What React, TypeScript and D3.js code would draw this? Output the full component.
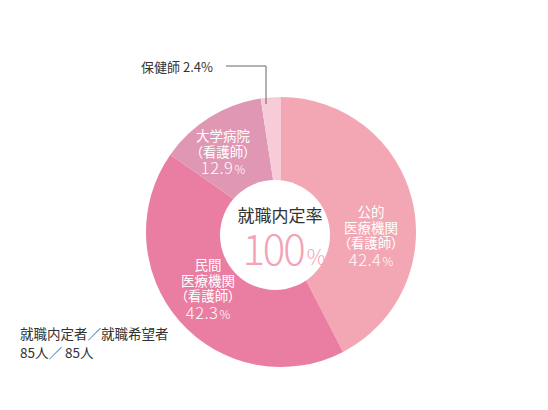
import React, { useRef, useEffect } from 'react';
import * as d3 from 'd3';

// data
const categories = ['公的医療機関（看護師）', '民間医療機関（看護師）', '大学病院（看護師）', '保健師'];
const values = [42.4, 42.3, 12.9, 2.4];
const labelLines = [
  ['公的', '医療機関', '（看護師）'],
  ['民間', '医療機関', '（看護師）'],
  ['大学病院', '（看護師）'],
  [],
];
const colors = ['#f3a7b5', '#ea7da2', '#e097b4', '#f8cbd9'];
const centerTitle = '就職内定率';
const centerValue = '100';
const summaryLines = ['就職内定者／就職希望者', '85人／ 85人'];

const W = 548;
const H = 410;

// label anchors relative to donut centre (x = centre of text block, y = baseline of first line)
const labelAnchor = [
  { dx: 90, dy: -15 },
  { dx: -73, dy: 38 },
  { dx: -58, dy: -91 },
];

const App = () => {
  const svgRef = useRef<SVGSVGElement>(null);

  useEffect(() => {
    const svg = d3.select(svgRef.current);
    svg.selectAll('*').remove();

    const cx = 281;
    const cy = 232;
    const outerR = 135;
    const font = '"Noto Sans CJK JP", "Noto Sans", sans-serif';

    const pie = d3.pie<number>().sort(null).value(d => d);
    const arcs = pie(values);
    const arc = d3.arc<d3.PieArcDatum<number>>().innerRadius(0).outerRadius(outerR);

    const g = svg.append('g').attr('transform', `translate(${cx},${cy})`);

    g.selectAll('path.slice')
      .data(arcs)
      .join('path')
      .attr('class', 'slice')
      .attr('d', arc)
      .attr('fill', (d, i) => colors[i]);

    // white centre disc (slightly off centre like the original)
    g.append('circle')
      .attr('cx', -6)
      .attr('cy', 3)
      .attr('r', 55)
      .attr('fill', '#fff');

    g.append('text')
      .attr('x', -1)
      .attr('y', -10)
      .attr('text-anchor', 'middle')
      .attr('font-family', font)
      .attr('font-size', 17)
      .attr('fill', '#333')
      .text(centerTitle);

    const big = g.append('text')
      .attr('x', 3)
      .attr('y', 33)
      .attr('text-anchor', 'middle')
      .attr('font-family', font)
      .attr('font-weight', 300)
      .attr('fill', '#f3a3b6');
    big.append('tspan').attr('font-size', 42).attr('letter-spacing', -2).text(centerValue);
    big.append('tspan').attr('font-size', 21).attr('dx', 3).text('%');

    // slice labels
    labelAnchor.forEach((a, i) => {
      const t = g.append('text')
        .attr('text-anchor', 'middle')
        .attr('font-family', font)
        .attr('fill', '#fff');
      labelLines[i].forEach((line, j) => {
        t.append('tspan')
          .attr('x', a.dx)
          .attr('y', a.dy + j * 15.5)
          .attr('font-size', 13.5)
          .style('font-feature-settings', line.startsWith('（') ? '"palt"' : 'normal')
          .text(line);
      });
      const n = labelLines[i].length;
      const pct = t.append('tspan')
        .attr('x', a.dx)
        .attr('y', a.dy + n * 15.5 + 2)
        .attr('font-weight', 300);
      pct.append('tspan').attr('font-size', 16.5).attr('letter-spacing', 0.5).text(values[i].toFixed(1));
      pct.append('tspan').attr('font-size', 12).attr('dx', 1).text('%');
    });

    // leader label for the small slice
    const lx = 266;
    const ly = 66;
    const endY = cy - 128;
    svg.append('path')
      .attr('d', `M${226},${ly}H${lx}V${endY}`)
      .attr('fill', 'none')
      .attr('stroke', '#666')
      .attr('stroke-width', 1);
    svg.append('text')
      .attr('x', 141)
      .attr('y', 72)
      .attr('font-family', font)
      .attr('font-size', 13)
      .attr('fill', '#333')
      .text(`${categories[3]} ${values[3]}%`);

    // summary
    const s = svg.append('text')
      .attr('font-family', font)
      .attr('font-size', 13.5)
      .attr('fill', '#333');
    summaryLines.forEach((line, j) => {
      s.append('tspan').attr('x', 20).attr('y', 339 + j * 19).text(line);
    });
  }, []);

  return (
    <svg
      ref={svgRef}
      width={W}
      height={H}
      style={{ position: 'absolute', left: 0, top: 0, background: '#fff' }}
    />
  );
};

export default App;
